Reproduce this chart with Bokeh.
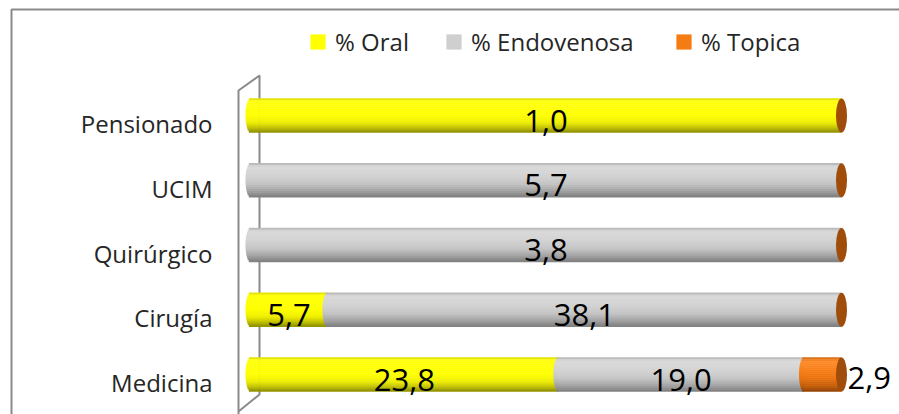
import numpy as np
from bokeh.plotting import figure
from bokeh.models import ColumnDataSource, Range1d, Legend, LegendItem
from bokeh.core.properties import value
from bokeh.embed import file_html
from bokeh.resources import INLINE

# ---- data (100% stacked, labels show raw values) ----
categories = ["Medicina", "Cirugía", "Quirúrgico", "UCIM", "Pensionado"]
series_names = ["% Oral", "% Endovenosa", "% Topica"]
oral = [23.8, 5.7, 0.0, 0.0, 1.0]
endovenosa = [19.0, 38.1, 3.8, 5.7, 0.0]
topica = [2.9, 0.0, 0.0, 0.0, 0.0]

W, H = 899, 414
PX0, PXU = 250, 5.91     # screen px of 0 %, px per %
PY4, PYU = 115, 64.75    # screen px of top category, px per category


def xd(px):
    return (px - PX0) / PXU


def yd(py):
    return 4 - (py - PY4) / PYU


FONT = "Open Sans"
p = figure(width=W, height=H, output_backend="svg", toolbar_location=None,
           x_range=Range1d(xd(0), xd(W)), y_range=Range1d(yd(H), yd(0)),
           x_axis_location=None, y_axis_location=None,
           min_border=0, outline_line_color=None)
p.grid.visible = False
p.background_fill_color = "white"

# outer chart border (only top/left visible in the window)
p.line(x=[xd(11), xd(11), xd(W + 20)], y=[yd(H + 20), yd(9), yd(9)],
       line_color="#8A8A8A", line_width=2)
# 3-D side wall
p.line(x=[xd(238), xd(238), xd(259), xd(259), xd(238)],
       y=[yd(H + 20), yd(90), yd(75), yd(394), yd(411)],
       line_color="#8A8A8A", line_width=2)

# colour gradients (top -> bottom) for cylinder look
stops = {
    "% Oral": [(0.0, "#d4d400"), (0.08, "#ffff10"), (0.5, "#ffff00"),
               (0.72, "#eeee00"), (0.88, "#bdbd00"), (1.0, "#8a8a00")],
    "% Endovenosa": [(0.0, "#b0b0b0"), (0.1, "#dadada"), (0.4, "#d2d2d2"),
                     (0.62, "#c4c4c4"), (0.82, "#a4a4a4"), (1.0, "#7c7c7c")],
    "% Topica": [(0.0, "#d06a12"), (0.12, "#ff8c2a"), (0.42, "#f67c14"),
                 (0.66, "#e66e0c"), (0.86, "#bf5a06"), (1.0, "#8e4004")],
}


def hex2rgb(h):
    return np.array([int(h[i:i + 2], 16) for i in (1, 3, 5)], dtype=float)


def grad(name, t):
    s = stops[name]
    for (t0, c0), (t1, c1) in zip(s[:-1], s[1:]):
        if t <= t1:
            f = (t - t0) / (t1 - t0) if t1 > t0 else 0
            c = hex2rgb(c0) * (1 - f) + hex2rgb(c1) * f
            return "#%02x%02x%02x" % tuple(int(round(v)) for v in c)
    return s[-1][1]


BAR_H = 34 / PYU
N = 17
A = 5 / PXU
ts = (np.arange(N) + 0.5) / N
bulge = A * np.sqrt(np.clip(1 - (2 * ts - 1) ** 2, 0, 1))

vals = [oral, endovenosa, topica]
tot = [sum(v[i] for v in vals) for i in range(len(categories))]
pct = [[v[i] / tot[i] * 100 for i in range(len(categories))] for v in vals]
cum = np.zeros(len(categories))

lab_in = dict(x=[], y=[], text=[])
lab_out = dict(x=[], y=[], text=[])
series_renderers = []
for s, name in enumerate(series_names):
    d = dict(y=[], left=[], right=[], color=[])
    for i in range(len(categories)):
        w = pct[s][i]
        if w <= 0:
            continue
        left, right = cum[i], cum[i] + w
        for k in range(N):
            d["y"].append(i + BAR_H * (0.5 - ts[k]))
            d["left"].append(left - bulge[k])
            d["right"].append(right)
            d["color"].append(grad(name, ts[k]))
        txt = ("%.1f" % vals[s][i]).replace(".", ",")
        if w < 10:
            lab_out["x"].append(100); lab_out["y"].append(i); lab_out["text"].append(txt)
        else:
            lab_in["x"].append(left + w / 2); lab_in["y"].append(i); lab_in["text"].append(txt)
        cum[i] += w
    r = p.hbar(y="y", left="left", right="right", height=BAR_H / N * 1.15,
               fill_color="color", line_color=None, source=ColumnDataSource(d))
    series_renderers.append(r)

# top caps of the cylinders
p.ellipse(x=[100] * len(categories), y=list(range(len(categories))),
          width=11, width_units="screen", height=BAR_H,
          fill_color="#a04c0a", line_color=None)

# value labels
p.text(x="x", y="y", text="text", source=ColumnDataSource(lab_in),
       text_align="center", text_baseline="middle", y_offset=5,
       text_font=value(FONT), text_font_size="31px", text_color="#000000")
p.text(x="x", y="y", text="text", source=ColumnDataSource(lab_out),
       text_align="left", text_baseline="middle", x_offset=6, y_offset=3,
       text_font=value(FONT), text_font_size="31px", text_color="#000000")

# category labels
p.text(x=[xd(212)] * len(categories), y=list(range(len(categories))), text=categories,
       text_align="right", text_baseline="middle", y_offset=8,
       text_font=value(FONT), text_font_size="24px", text_color="#262626")

# legend: one per item to pin positions
legend_x = [308, 444, 674]
for name, r, lx in zip(series_names, series_renderers, legend_x):
    leg = Legend(items=[LegendItem(label=name, renderers=[r], index=int(N * 0.45))],
                 location=(lx, H - 58), orientation="horizontal",
                 glyph_width=19, glyph_height=19, label_standoff=8,
                 padding=0, margin=0, spacing=0, border_line_color=None,
                 background_fill_alpha=0, label_text_font=FONT,
                 label_text_font_size="24px", label_text_color="#262626")
    p.add_layout(leg)

open("out.html", "w").write(file_html(p, INLINE))
